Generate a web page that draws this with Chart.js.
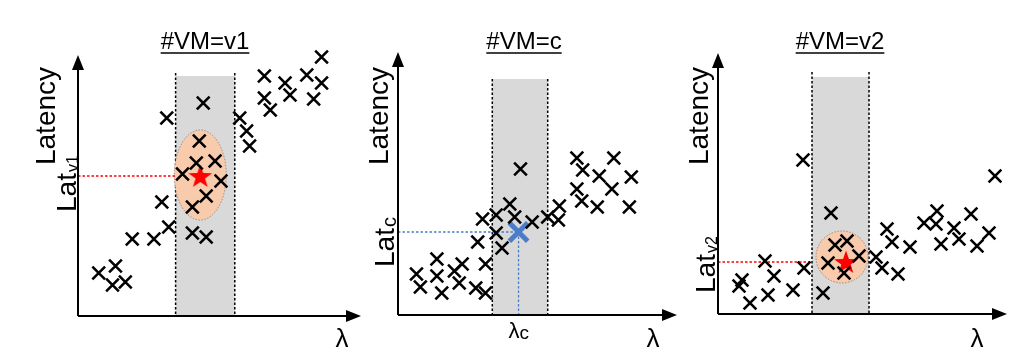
<!DOCTYPE html>
<html lang="en">
<head>
<meta charset="UTF-8">
<title>Latency vs lambda</title>
<script src="https://cdn.jsdelivr.net/npm/chart.js"></script>
<style>
  body { margin: 0; background: #fff; }
  #wrap { position: relative; width: 1024px; height: 363px; overflow: hidden; }
  canvas { position: absolute; top: 0; }
</style>
<script>
// values (arbitrary units, origin at the axes corner)
var v1X = [21, 38, 35, 48, 55, 77, 92, 85, 90, 127, 123, 120, 139, 106, 145, 130, 116, 116, 130, 164, 171, 174, 189, 189, 195, 210, 215, 232, 247, 239, 247];
var v1Y = [43, 50, 31, 34, 77, 77, 89, 114, 198, 213, 175, 153, 155, 142, 135, 120, 109, 83, 79, 198, 185, 170, 240, 218, 206, 233, 221, 241, 233, 217, 259];
var v1Best = [124, 140];
var v1Band = [99, 159];

var cX = [19, 23, 40, 40, 45, 58, 66, 63, 80, 90, 90, 82, 87, 101, 101, 107, 115, 120, 126, 138, 154, 166, 165, 184, 190, 207, 184, 189, 205, 220, 222, 240, 238];
var cY = [41, 28, 56, 39, 22, 44, 51, 32, 27, 22, 51, 73, 96, 100, 82, 67, 111, 98, 146, 93, 98, 109, 95, 157, 145, 139, 126, 114, 108, 126, 157, 138, 108];
var cBest = [124, 83];
var cBand = [97, 154];

var v2X = [21, 24, 32, 47, 50, 56, 75, 85, 86, 105, 113, 110, 117, 129, 126, 141, 158, 164, 180, 169, 174, 192, 206, 219, 218, 223, 236, 241, 253, 259, 271, 277];
var v2Y = [28, 34, 11, 53, 19, 38, 24, 154, 46, 21, 101, 51, 69, 73, 41, 58, 57, 46, 40, 85, 72, 67, 91, 103, 90, 70, 86, 75, 100, 68, 81, 138];
var v2Best = [128, 52];
var v2Band = [94, 151];

var titles = ['#VM=v1', '#VM=c', '#VM=v2'];
var latSubs = ['v1', 'c', 'v2'];
</script>
</head>
<body>
<div id="wrap">
  <canvas id="c1" width="375" height="363" style="left:0px"></canvas>
  <canvas id="c2" width="355" height="363" style="left:340px"></canvas>
  <canvas id="c3" width="344" height="363" style="left:680px"></canvas>
</div>
<script>
var FONT = "'Liberation Sans', Arial, sans-serif";

// filled red star used as point style
var star = document.createElement('canvas');
star.width = 26; star.height = 26;
(function () {
  var g = star.getContext('2d');
  g.fillStyle = '#ff0000';
  g.beginPath();
  for (var i = 0; i < 10; i++) {
    var r = i % 2 ? 5 : 12.5;
    var a = -Math.PI / 2 + i * Math.PI / 5;
    g.lineTo(13 + r * Math.cos(a), 14 + r * Math.sin(a));
  }
  g.closePath();
  g.fill();
})();

function pts(xs, ys) {
  var out = [];
  for (var i = 0; i < xs.length; i++) out.push({ x: xs[i], y: ys[i] });
  return out;
}

function vtext(ctx, txt, x, y, font, align) {
  ctx.save();
  ctx.translate(x, y);
  ctx.rotate(-Math.PI / 2);
  ctx.font = font;
  ctx.textAlign = align || 'center';
  ctx.textBaseline = 'alphabetic';
  ctx.fillText(txt, 0, 0);
  ctx.restore();
}

var decor = {
  id: 'decor',
  beforeDatasetsDraw: function (chart) {
    var o = chart.options.plugins.decor;
    var ctx = chart.ctx, xs = chart.scales.x, ys = chart.scales.y;
    var a = chart.chartArea;
    var bx0 = xs.getPixelForValue(o.band[0]), bx1 = xs.getPixelForValue(o.band[1]);
    ctx.save();
    ctx.fillStyle = '#d9d9d9';
    ctx.fillRect(bx0, ys.getPixelForValue(o.bandTop), bx1 - bx0, a.bottom - ys.getPixelForValue(o.bandTop));
    ctx.strokeStyle = '#000';
    ctx.lineWidth = 1.5;
    ctx.setLineDash([2.5, 2]);
    [bx0, bx1].forEach(function (x) {
      ctx.beginPath();
      ctx.moveTo(x, ys.getPixelForValue(o.dotTop));
      ctx.lineTo(x, a.bottom);
      ctx.stroke();
    });
    if (o.ellipse) {
      var e = o.ellipse;
      ctx.beginPath();
      ctx.ellipse(xs.getPixelForValue(e[0]), ys.getPixelForValue(e[1]), e[2], e[3], 0, 0, Math.PI * 2);
      ctx.fillStyle = '#f8cbad';
      ctx.fill();
      ctx.strokeStyle = '#a08878';
      ctx.lineWidth = 1;
      ctx.setLineDash([1.5, 1.5]);
      ctx.stroke();
    }
    // guide lines to the chosen point
    var bx = xs.getPixelForValue(o.best[0]), by = ys.getPixelForValue(o.best[1]);
    ctx.strokeStyle = o.guideColor;
    ctx.lineWidth = 1.3;
    ctx.setLineDash([2.5, 2]);
    ctx.beginPath();
    ctx.moveTo(a.left, by);
    ctx.lineTo(o.vertical ? bx : bx0, by);
    if (o.vertical) {
      ctx.moveTo(bx, by);
      ctx.lineTo(bx, a.bottom);
    }
    ctx.stroke();
    ctx.restore();
  },
  afterDatasetsDraw: function (chart) {
    var o = chart.options.plugins.decor;
    var ctx = chart.ctx, a = chart.chartArea;
    ctx.save();
    // axes with arrow heads
    ctx.strokeStyle = '#000';
    ctx.fillStyle = '#000';
    ctx.lineWidth = 2;
    ctx.beginPath();
    ctx.moveTo(a.left, a.bottom);
    ctx.lineTo(a.left, a.top + 12);
    ctx.moveTo(a.left, a.bottom);
    ctx.lineTo(a.right - 12, a.bottom);
    ctx.stroke();
    ctx.beginPath();
    ctx.moveTo(a.left, a.top);
    ctx.lineTo(a.left - 6, a.top + 15);
    ctx.lineTo(a.left + 6, a.top + 15);
    ctx.closePath();
    ctx.fill();
    ctx.beginPath();
    ctx.moveTo(a.right, a.bottom);
    ctx.lineTo(a.right - 15, a.bottom - 6);
    ctx.lineTo(a.right - 15, a.bottom + 6);
    ctx.closePath();
    ctx.fill();

    // title, underlined
    ctx.font = '24px ' + FONT;
    ctx.textAlign = 'center';
    ctx.textBaseline = 'alphabetic';
    var tx = a.left + o.titleDx;
    ctx.fillText(o.title, tx, 49);
    var tw = ctx.measureText(o.title).width;
    ctx.lineWidth = 1.5;
    ctx.beginPath();
    ctx.moveTo(tx - tw / 2, 53);
    ctx.lineTo(tx + tw / 2, 53);
    ctx.stroke();

    // y axis name
    vtext(ctx, 'Latency', a.left - o.latencyDx, 116, '28px ' + FONT);

    // Lat with subscript
    ctx.save();
    ctx.translate(a.left - o.latDx, o.latBottom);
    ctx.rotate(-Math.PI / 2);
    ctx.textAlign = 'left';
    ctx.font = '28px ' + FONT;
    ctx.fillText('Lat', 0, 0);
    var lw = ctx.measureText('Lat').width;
    ctx.font = o.subSize + 'px ' + FONT;
    ctx.fillText(o.sub, lw + 1, 2);
    ctx.restore();

    // lambda
    ctx.font = '26px ' + FONT;
    ctx.textAlign = 'center';
    ctx.fillText('\u03bb', a.right + o.lambdaDx, 347);

    if (o.vertical) {
      var bx = chart.scales.x.getPixelForValue(o.best[0]);
      ctx.font = '22px ' + FONT;
      ctx.textAlign = 'right';
      ctx.fillText('\u03bb', bx + 1, 338);
      ctx.font = '19px ' + FONT;
      ctx.textAlign = 'left';
      ctx.fillText('c', bx + 1, 339);
    }
    ctx.restore();
  }
};

function makePanel(id, xs, ys, best, bestStyle, pad, xMax, yMax, deco) {
  var bestSet = bestStyle === 'star'
    ? { data: [{ x: best[0], y: best[1] }], pointStyle: star, pointRadius: 13 }
    : { data: [{ x: best[0], y: best[1] }], pointStyle: 'crossRot', pointRadius: 13,
        pointBorderWidth: 5, pointBorderColor: '#4a7cc9' };
  bestSet.showLine = false;
  bestSet.clip = false;
  new Chart(document.getElementById(id), {
    type: 'scatter',
    data: {
      datasets: [
        { data: pts(xs, ys), pointStyle: 'crossRot', pointRadius: 9, pointBorderWidth: 2.6,
          pointBorderColor: '#000', clip: false },
        bestSet
      ]
    },
    options: {
      responsive: false,
      animation: false,
      events: [],
      devicePixelRatio: 1,
      layout: { padding: pad },
      scales: {
        x: { type: 'linear', display: false, min: 0, max: xMax },
        y: { type: 'linear', display: false, min: 0, max: yMax }
      },
      plugins: { legend: { display: false }, tooltip: { enabled: false }, decor: deco }
    },
    plugins: [decor]
  });
}

makePanel('c1', v1X, v1Y, v1Best, 'star', { left: 78, top: 55, right: 10, bottom: 47 }, 287, 261, {
  band: v1Band, bandTop: 240, dotTop: 243, ellipse: [124, 141, 26, 45],
  best: v1Best, guideColor: '#ff0000', vertical: false,
  title: titles[0], titleDx: 127, latencyDx: 23, latDx: 2, latBottom: 212,
  sub: latSubs[0], subSize: 16, lambdaDx: -19
});
makePanel('c2', cX, cY, cBest, 'cross', { left: 58, top: 52, right: 10, bottom: 48 }, 287, 263, {
  band: cBand, bandTop: 236, dotTop: 236, ellipse: null,
  best: cBest, guideColor: '#4a7cc9', vertical: true,
  title: titles[1], titleDx: 126, latencyDx: 10, latDx: 4, latBottom: 267,
  sub: latSubs[1], subSize: 20, lambdaDx: -24
});
makePanel('c3', v2X, v2Y, v2Best, 'star', { left: 38, top: 53, right: 17, bottom: 49 }, 289, 261, {
  band: v2Band, bandTop: 237, dotTop: 242, ellipse: [124, 57, 26, 26],
  best: v2Best, guideColor: '#ff0000', vertical: false,
  title: titles[2], titleDx: 122, latencyDx: 10, latDx: 3, latBottom: 293,
  sub: latSubs[2], subSize: 16, lambdaDx: -30
});
</script>
</body>
</html>
